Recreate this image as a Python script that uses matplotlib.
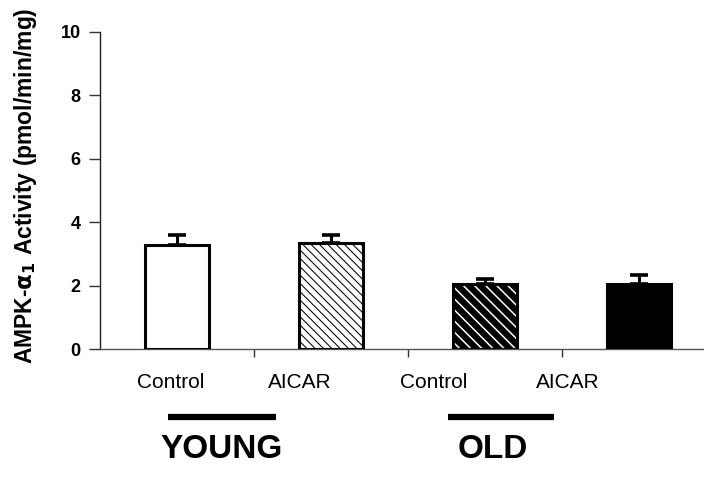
import matplotlib
matplotlib.use("Agg")
import matplotlib.pyplot as plt
from matplotlib.transforms import blended_transform_factory

plt.rcParams['font.family'] = ['Liberation Sans', 'DejaVu Sans']

# Data
groups = ["Young Control", "Young AICAR", "Old Control", "Old AICAR"]
values = [3.28, 3.33, 2.04, 2.04]
errors = [0.32, 0.27, 0.16, 0.30]
tick_names = ["Control", "AICAR", "Control", "AICAR"]
tick_name_pos = [-0.04, 0.80, 1.67, 2.54]
age_names = ["YOUNG", "OLD"]
age_pos = [0.29, 2.05]
age_line_spans = [(-0.06, 0.64), (1.76, 2.45)]
yticks = [0, 2, 4, 6, 8, 10]

W, H = 704, 478
fig = plt.figure(figsize=(W / 100, H / 100), dpi=100)
left, right, top, bottom = 100, 100 + 154 * 4, 32, 349
ax = fig.add_axes([left / W, 1 - bottom / H, (right - left) / W, (bottom - top) / H])

x = list(range(len(values)))
bw = 0.41
edge_lw = 2.2

# bar 1: white
ax.bar(x[0], values[0], bw, facecolor='white', edgecolor='black', linewidth=edge_lw, zorder=3)
# bar 2: white with thin black hatch
with plt.rc_context({'hatch.linewidth': 0.75}):
    ax.bar(x[1], values[1], bw, facecolor='white', edgecolor='black', linewidth=0,
           hatch='\\' * 4, zorder=3)
ax.bar(x[1], values[1], bw, facecolor='none', edgecolor='black', linewidth=edge_lw, zorder=4)
# bar 3: black with white hatch
with plt.rc_context({'hatch.linewidth': 1.1}):
    ax.bar(x[2], values[2], bw, facecolor='black', edgecolor='white', linewidth=0,
           hatch='\\' * 3, zorder=3)
ax.bar(x[2], values[2], bw, facecolor='none', edgecolor='black', linewidth=edge_lw, zorder=4)
# bar 4: black
ax.bar(x[3], values[3], bw, facecolor='black', edgecolor='black', linewidth=edge_lw, zorder=3)

ax.errorbar(x, values, yerr=[[0] * len(errors), errors], fmt='none', ecolor='black',
            elinewidth=2.2, capsize=6.5, capthick=2.6, zorder=2)

ax.set_xlim(-0.5, 3.5)
ax.set_ylim(0, 10)
ax.set_yticks(yticks)
ax.set_yticklabels([str(v) for v in yticks], fontsize=13, fontweight='bold')
ax.set_xticks([0.5, 1.5, 2.5])
ax.set_xticklabels([])
ax.tick_params(axis='y', direction='out', length=8, width=1, color='#333333', pad=6)
ax.tick_params(axis='x', direction='out', length=6, width=1, color='#333333')
for s in ['top', 'right']:
    ax.spines[s].set_visible(False)
ax.spines['left'].set_color('#222222')
ax.spines['bottom'].set_color('#555555')
ax.spines['left'].set_linewidth(1)
ax.spines['bottom'].set_linewidth(1)

trans = blended_transform_factory(ax.transData, fig.transFigure)
for name, pos in zip(tick_names, tick_name_pos):
    ax.text(pos, 1 - 382 / H, name, transform=trans, ha='center', va='center',
            fontsize=15, clip_on=False)
for name, pos, (x0, x1) in zip(age_names, age_pos, age_line_spans):
    ax.plot([x0, x1], [1 - 417 / H] * 2, transform=trans, color='black', lw=4.5,
            solid_capstyle='butt', clip_on=False)
    ax.text(pos, 1 - 449 / H, name, transform=trans, ha='center', va='center',
            fontsize=24, fontweight='bold', clip_on=False)

fig.text(26 / W, 1 - 186 / H, r"AMPK-$\mathbf{\alpha}_{\mathbf{1}}$ Activity (pmol/min/mg)",
         rotation=90, ha='center', va='center', fontsize=16.5, fontweight='bold')

fig.savefig("out.png", dpi=100)
